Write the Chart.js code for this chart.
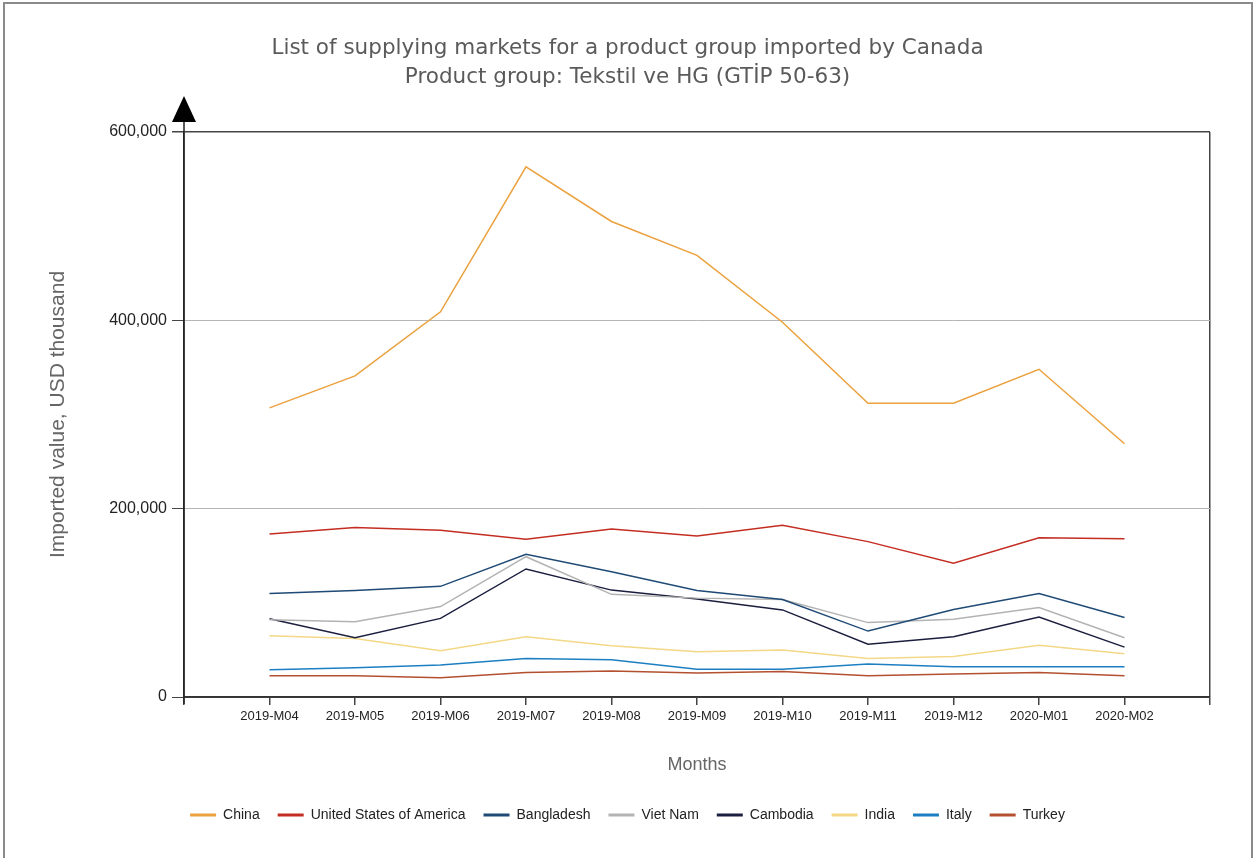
<!DOCTYPE html>
<html>
<head>
<meta charset="utf-8">
<script src="https://cdn.jsdelivr.net/npm/chart.js@4.4.0/dist/chart.umd.min.js"></script>
<style>
    html, body { margin: 0; padding: 0; background: #fff; overflow: hidden; }
    #wrap { width: 1255px; height: 858px; position: relative; }
</style>
</head>
<body>
<div id="wrap"><canvas id="chart"></canvas></div>
<script>
// --- Data (USD thousand) ---
const months = ['2019-M04', '2019-M05', '2019-M06', '2019-M07', '2019-M08', '2019-M09',
                '2019-M10', '2019-M11', '2019-M12', '2020-M01', '2020-M02'];
const china      = [307000, 341000, 409000, 563000, 505000, 469000, 398000, 312000, 312000, 348000, 269000];
const usa        = [173000, 180000, 177000, 167500, 178500, 171000, 182500, 165000, 142000, 169000, 168000];
const bangladesh = [110000, 113000, 117500, 151500, 133000, 113000, 103500, 70000, 93000, 110000, 84500];
const vietNam    = [82000, 80000, 96000, 149000, 109000, 105000, 103500, 79000, 82500, 95000, 63000];
const cambodia   = [83000, 63000, 83500, 136000, 113500, 104000, 92500, 56000, 64000, 85000, 53000];
const india      = [65000, 62000, 49000, 64000, 54500, 48000, 50000, 41000, 43000, 55000, 46000];
const italy      = [29000, 31000, 34000, 41000, 39500, 29500, 29500, 35000, 32000, 32000, 32000];
const turkey     = [22500, 22500, 20500, 26000, 27500, 25500, 27000, 22500, 24500, 26000, 22500];
const yTicks     = [0, 200000, 400000, 600000];

const series = [
    { label: 'China', data: china, color: '#eba13e' },
    { label: 'United States of America', data: usa, color: '#c42d22' },
    { label: 'Bangladesh', data: bangladesh, color: '#1f4a75' },
    { label: 'Viet Nam', data: vietNam, color: '#b3b3b3' },
    { label: 'Cambodia', data: cambodia, color: '#1b1e3e' },
    { label: 'India', data: india, color: '#f4d887' },
    { label: 'Italy', data: italy, color: '#1d7fc1' },
    { label: 'Turkey', data: turkey, color: '#b3502f' }
];

// frame around the picture + arrow on top of the y axis
const framePlugin = {
    id: 'frame',
    beforeDraw(chart) {
        const c = chart.ctx;
        c.save();
        c.fillStyle = '#fff';
        c.fillRect(0, 0, chart.width, chart.height);
        c.strokeStyle = '#8a8a8a';
        c.lineWidth = 2;
        c.strokeRect(4, 3, chart.width - 7, chart.height + 20);
        c.restore();
    },
    afterDraw(chart) {
        const { left, top, bottom } = chart.chartArea;
        const c = chart.ctx;
        c.save();
        c.strokeStyle = '#222';
        c.lineWidth = 1.5;
        c.beginPath();
        c.moveTo(left, top - 10);
        c.lineTo(left, bottom + 7);
        c.stroke();
        c.fillStyle = '#000';
        c.beginPath();
        c.moveTo(left, top - 36);
        c.lineTo(left - 12, top - 10);
        c.lineTo(left + 12, top - 10);
        c.closePath();
        c.fill();
        c.restore();
    }
};

const ctx = document.getElementById('chart').getContext('2d');
new Chart(ctx, {
    type: 'line',
    data: {
        datasets: series.map(s => ({
            label: s.label,
            data: s.data.map((v, i) => ({ x: i, y: v })),
            borderColor: s.color,
            backgroundColor: s.color,
            borderWidth: 1.5,
            pointRadius: 0,
            tension: 0,
            fill: false
        }))
    },
    options: {
        responsive: true,
        maintainAspectRatio: false,
        animation: false,
        layout: { padding: { top: 0, left: 0, right: 0, bottom: 26 } },
        plugins: {
            tooltip: { enabled: false },
            title: {
                display: true,
                text: ['List of supplying markets for a product group imported by Canada',
                       'Product group: Tekstil ve HG (GTİP 50-63)'],
                color: '#5a5a5a',
                font: { family: 'DejaVu Sans', size: 21.5, weight: 'normal', lineHeight: '29px' },
                padding: { top: 33.5, bottom: 40.5 }
            },
            legend: {
                position: 'bottom',
                labels: {
                    color: '#222',
                    font: { family: 'Liberation Sans', size: 14 },
                    boxWidth: 26,
                    boxHeight: 3,
                    padding: 18,
                    generateLabels(chart) {
                        return Chart.defaults.plugins.legend.labels.generateLabels(chart)
                            .map(l => Object.assign(l, { lineWidth: 0 }));
                    }
                }
            }
        },
        scales: {
            x: {
                type: 'linear',
                min: -1,
                max: 11,
                afterFit(s) { s.height = 93; },
                afterBuildTicks(s) {
                    s.ticks = [];
                    for (let i = -1; i <= 11; i++) s.ticks.push({ value: i });
                },
                ticks: {
                    autoSkip: false,
                    maxRotation: 0,
                    padding: 4,
                    color: '#222',
                    font: { family: 'Liberation Sans', size: 13 },
                    callback: v => months[v] || ''
                },
                grid: {
                    drawOnChartArea: true,
                    color: c => c.tick && c.tick.value === 11 ? '#444' : 'rgba(0,0,0,0)',
                    lineWidth: 1.5,
                    tickColor: '#444',
                    tickLength: 8
                },
                border: { display: true, color: '#333', width: 1.5 },
                title: {
                    display: true,
                    text: 'Months',
                    color: '#666',
                    font: { family: 'Liberation Sans', size: 18 },
                    padding: { top: 0, bottom: 14.2 }
                }
            },
            y: {
                min: 0,
                max: 600000,
                afterFit(s) { s.width = 184; },
                afterBuildTicks(s) { s.ticks = yTicks.map(v => ({ value: v })); },
                ticks: {
                    padding: 5,
                    color: '#222',
                    font: { family: 'Liberation Sans', size: 16 },
                    callback: v => v.toLocaleString('en-US')
                },
                grid: {
                    color: c => (c.tick && (c.tick.value === 600000 || c.tick.value === 0)) ? '#444' : '#b5b5b5',
                    lineWidth: c => (c.tick && c.tick.value === 600000) ? 1.5 : 1,
                    tickColor: '#444',
                    tickLength: 12
                },
                border: { display: true, color: '#333', width: 1.5 },
                title: {
                    display: true,
                    text: 'Imported value, USD thousand',
                    color: '#666',
                    font: { family: 'Liberation Sans', size: 21 },
                    padding: { top: 45.5, bottom: 0 }
                }
            },
            yR: {
                position: 'right',
                display: true,
                afterFit(s) { s.width = 45; },
                ticks: { display: false },
                grid: { display: false },
                border: { display: false }
            }
        }
    },
    plugins: [framePlugin]
});
</script>
</body>
</html>
